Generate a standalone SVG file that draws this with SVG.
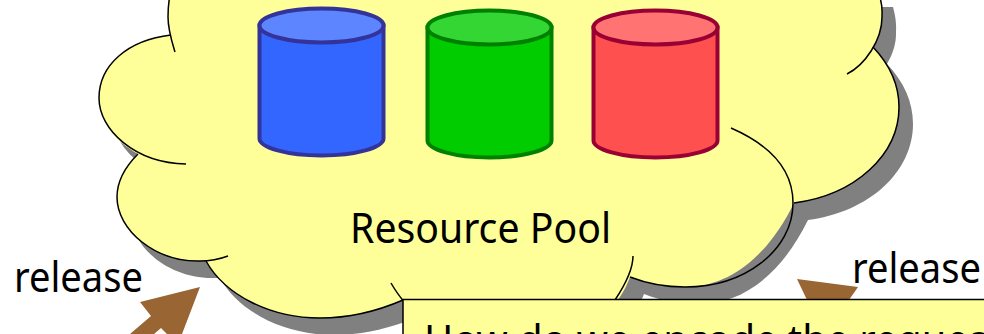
<svg xmlns="http://www.w3.org/2000/svg" width="984" height="334" viewBox="0 0 984 334">
<style>
.lbl{font-family:"Noto Sans","DejaVu Sans",sans-serif;font-size:41px;fill:#000}
.arc{fill:none;stroke:#000;stroke-width:1.5}
.can{stroke-width:4}
</style>
<defs>
<path id="cloud" d="M170,-10 C168,0 168,10 168,17 C168,24 169,30 171,35 C128,40 99,65 99,98 C99,122 115,141 138,154 C125,167 117,180 117,197 C117,230 155,262 200,261 L206,261 C225,295 270,318 320,318 C350,318 380,310 403,300 L520,330 L600,320 C620,300 625,290 630,277 C648,284 665,287 685,287 C725,287 765,262 794,203 C855,195 899,155 899,107 C899,85 890,65 873,47 C880,35 882,25 882,17 C882,10 883,5 879,-10 Z"/>
</defs>
<rect width="984" height="334" fill="#fff"/>
<g id="cloud-pool">
<use href="#cloud" transform="translate(14,17)" fill="#808080"/>
<use href="#cloud" fill="#ffff99"/>
<path class="arc" d="M170,-5 C168,5 168,10 168,17 C168,30 172,42 175,52"/>
<path class="arc" d="M171,35 C128,40 99,65 99,98 C99,130 135,163 186,164"/>
<path class="arc" d="M138,154 C125,167 117,180 117,197 C117,230 155,262 200,261 C210,261 220,259 228,256"/>
<path class="arc" d="M206,261 C225,295 270,318 320,318 C350,318 380,310 403,300"/>
<path class="arc" d="M391,283 Q396,292 405,303"/>
<path class="arc" d="M615,300 C625,285 633,270 633,256"/>
<path class="arc" d="M630,277 C648,284 665,287 685,287 C745,287 793,250 793,203 C793,170 770,145 731,128"/>
<path class="arc" d="M794,203 C855,195 899,155 899,107 C899,85 890,65 873,47"/>
<path class="arc" d="M879,-5 C883,5 882,10 882,17 C882,40 865,65 847,74"/>
<text class="lbl" x="350" y="243" textLength="261" lengthAdjust="spacingAndGlyphs">Resource Pool</text>
</g>
<g id="can-blue">
<path class="can" d="M259.5,25.5 V138.5 C259.5,147.5 287,155.5 321.5,155.5 C356,155.5 383.5,147.5 383.5,138.5 V25.5 Z" fill="#3366ff" stroke="#333399"/>
<ellipse class="can" cx="321.5" cy="25.5" rx="62" ry="17" fill="#5c85ff" stroke="#333399"/>
</g>
<g id="can-green">
<path class="can" d="M427.5,27.5 V140.5 C427.5,149.5 455,157.5 489.5,157.5 C524,157.5 551.5,149.5 551.5,140.5 V27.5 Z" fill="#00cc00" stroke="#008000"/>
<ellipse class="can" cx="489.5" cy="27.5" rx="62" ry="17" fill="#33d633" stroke="#008000"/>
</g>
<g id="can-red">
<path class="can" d="M593.5,27.5 V140.5 C593.5,149.5 621,157.5 655.5,157.5 C690,157.5 717.5,149.5 717.5,140.5 V27.5 Z" fill="#ff5050" stroke="#990033"/>
<ellipse class="can" cx="655.5" cy="27.5" rx="62" ry="17" fill="#ff7373" stroke="#990033"/>
</g>
<g id="connectors">
<polygon points="200,287 140,302 151,316 130,334 154,334 161,328 167,334 182,334" fill="#996633"/>
<polygon points="797,279 858,287 849,300 807,300" fill="#996633"/>
</g>
<g id="label-release-left"><text class="lbl" transform="translate(14,292) scale(.93,1)">release</text></g>
<g id="label-release-right"><text class="lbl" transform="translate(852,283) scale(.93,1)">release</text></g>
<g id="note">
<rect x="403" y="299.5" width="600" height="60" fill="#ffff99" stroke="#000" stroke-width="1.5"/>
<text class="lbl" x="424" y="355" textLength="578" lengthAdjust="spacingAndGlyphs">How do we encode the request</text>
</g>
</svg>
